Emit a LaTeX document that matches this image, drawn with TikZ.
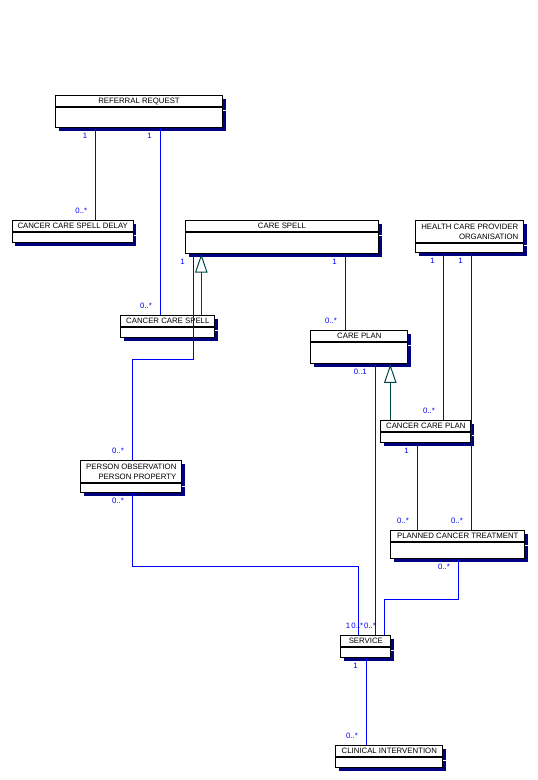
\documentclass[tikz,border=0pt]{standalone}
\usepackage{fontspec}
\setmainfont{Liberation Sans}
\usetikzlibrary{arrows.meta,positioning,shadows}

\definecolor{assocblue}{RGB}{0,0,255}
\definecolor{shadownavy}{RGB}{0,0,128}
\definecolor{genteal}{RGB}{0,72,72}

\begin{document}
\begin{tikzpicture}[
    x=1pt, y=-1pt,
    classhead/.style={draw, fill=white, line width=1pt, inner sep=0pt, anchor=north west,
        minimum height=11pt, font=\fontsize{7.8}{10}\selectfont,
        drop shadow={fill=shadownavy, opacity=1, shadow xshift=3pt, shadow yshift=-3pt}},
    classbody/.style={draw, fill=white, line width=1pt, inner sep=0pt,
        drop shadow={fill=shadownavy, opacity=1, shadow xshift=3pt, shadow yshift=-3pt}},
    assoc/.style={draw=assocblue, line width=1pt},
    genarrow/.style={draw=genteal, line width=1pt, -{Triangle[open, length=18.6pt, width=12.4pt]}},
    mult/.style={text=assocblue, inner sep=0pt, anchor=east, xshift=-8pt, font=\fontsize{7.8}{9}\selectfont},
    multtop/.style={mult, yshift=-7.7pt},
    multbot/.style={mult, yshift=9pt}
]
\useasboundingbox (0,0) rectangle (538,780);

% classes
\node[classhead, minimum width=167pt] (rr) at (55,95.3) {REFERRAL REQUEST};
\node[classbody, minimum width=167pt, minimum height=20pt, below=0pt of rr] (rrb) {};

\node[classhead, minimum width=121pt, minimum height=10.7pt] (delay) at (11.7,220.3) {CANCER CARE SPELL DELAY};
\node[classbody, minimum width=121pt, minimum height=10.3pt, below=0pt of delay] (delayb) {};

\node[classhead, minimum width=193pt] (cs) at (185,220.3) {CARE SPELL};
\node[classbody, minimum width=193pt, minimum height=20.7pt, below=0pt of cs] (csb) {};

\node[classhead, minimum width=108pt, minimum height=21.4pt, align=right] (hcpo) at (415.3,220.3) {HEALTH CARE PROVIDER\\ORGANISATION};
\node[classbody, minimum width=108pt, minimum height=9.6pt, below=0pt of hcpo] (hcpob) {};

\node[classhead, minimum width=94pt] (ccs) at (120.3,315.3) {CANCER CARE SPELL};
\node[classbody, minimum width=94pt, minimum height=9.7pt, below=0pt of ccs] (ccsb) {};

\node[classhead, minimum width=97pt] (cp) at (310.3,330.3) {CARE PLAN};
\node[classbody, minimum width=97pt, minimum height=21pt, below=0pt of cp] (cpb) {};

\node[classhead, minimum width=90pt] (ccp) at (380.3,420.3) {CANCER CARE PLAN};
\node[classbody, minimum width=90pt, minimum height=10pt, below=0pt of ccp] (ccpb) {};

\node[classhead, minimum width=101pt, minimum height=21.7pt, align=right] (po) at (80.3,460.3) {PERSON OBSERVATION\\PERSON PROPERTY};
\node[classbody, minimum width=101pt, minimum height=9.3pt, below=0pt of po] (pob) {};

\node[classhead, minimum width=134pt] (pct) at (390.3,530.3) {PLANNED CANCER TREATMENT};
\node[classbody, minimum width=134pt, minimum height=15.7pt, below=0pt of pct] (pctb) {};

\node[classhead, minimum width=50pt] (svc) at (340.3,635.3) {SERVICE};
\node[classbody, minimum width=50pt, minimum height=10pt, below=0pt of svc] (svcb) {};

\node[classhead, minimum width=107pt, minimum height=10.7pt] (ci) at (335.3,745.3) {CLINICAL INTERVENTION};
\node[classbody, minimum width=107pt, minimum height=10.3pt, below=0pt of ci] (cib) {};

% associations
\draw[assoc] ([xshift=40.7pt]rrb.south west) coordinate (a1) node[multtop] {1} -- (a1 |- delay.north) node[multbot] {0..*};
\draw[assoc] ([xshift=105.3pt]rrb.south west) coordinate (a2) node[multtop] {1} -- (a2 |- ccs.north) node[multbot] {0..*};
\draw[assoc] ([xshift=8.3pt]csb.south west) node[multtop] {1} -- ++(0,105.3) -| ([xshift=52pt]po.north west) node[multbot] {0..*};
\draw[assoc] ([xshift=160.3pt]csb.south west) coordinate (a3) node[multtop] {1} -- (a3 |- cp.north) node[multbot] {0..*};
\draw[assoc] ([xshift=28pt]hcpob.south west) coordinate (a4) node[multtop] {1} -- (a4 |- ccp.north) node[multbot] {0..*};
\draw[assoc] ([xshift=56pt]hcpob.south west) coordinate (a5) node[multtop] {1} -- (a5 |- pct.north) node[multbot] {0..*};
\draw[assoc] ([xshift=37pt]ccpb.south west) coordinate (a6) node[multtop] {1} -- (a6 |- pct.north) node[multbot] {0..*};
\draw[assoc] ([xshift=52pt]pob.south west) node[multtop] {0..*} -- ++(0,73) -| ([xshift=18.4pt]svc.north west) node[multbot] {1};
\draw[assoc] ([xshift=65pt]cpb.south west) coordinate (a7) node[multtop] {0..1} -- (a7 |- svc.north) node[multbot, xshift=-3.6pt] {0..*};
\draw[assoc] ([xshift=68pt]pctb.south west) node[multtop] {0..*} -- ++(0,40.3) -| ([xshift=44pt]svc.north west) node[multbot] {0..*};
\draw[assoc] ([xshift=26pt]svcb.south west) coordinate (a8) node[multtop] {1} -- (a8 |- ci.north) node[multbot] {0..*};

% generalisations
\draw[genarrow] ([xshift=81pt]ccs.north west) coordinate (g1) -- (g1 |- csb.south);
\draw[genarrow] ([xshift=10pt]ccp.north west) coordinate (g2) -- (g2 |- cpb.south);
\end{tikzpicture}
\end{document}
